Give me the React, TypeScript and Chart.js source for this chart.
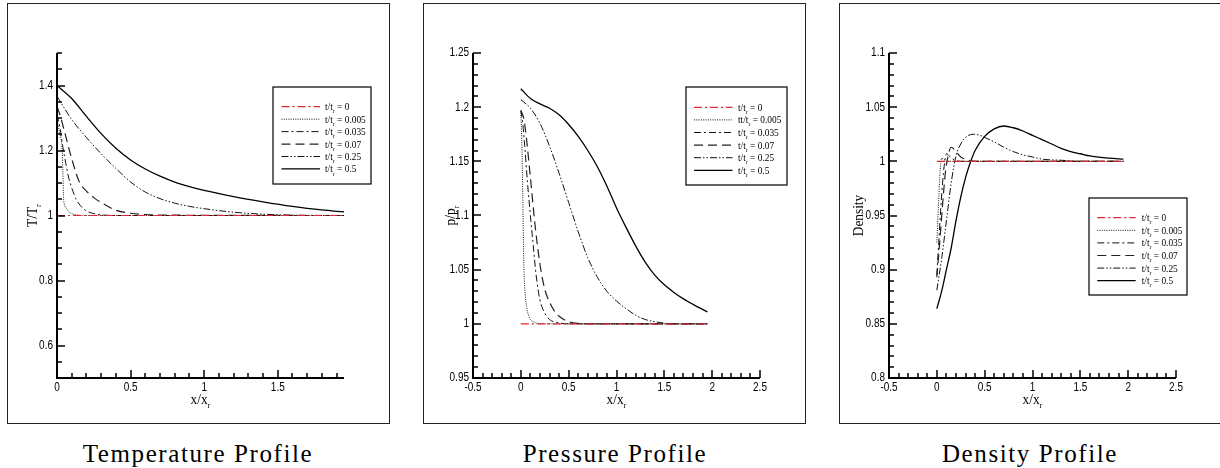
import React, { useEffect, useRef } from 'react';
import { Chart, registerables } from 'chart.js';
Chart.register(...registerables);

// ---------- Temperature profile ----------
const T_x0 = [0, 1.95];
const T_y0 = [1, 1];
const T_x1 = [0, 0.02, 0.035, 0.04, 0.045, 0.06, 0.08, 0.1, 0.13, 0.2, 1.95];
const T_y1 = [1.29, 1.25, 1.2, 1.13, 1.05, 1.025, 1.012, 1.006, 1.002, 1.0, 1.0];
const T_x2 = [0, 0.02, 0.04, 0.06, 0.08, 0.1, 0.13, 0.16, 0.2, 0.25, 0.3, 0.4, 1.95];
const T_y2 = [1.31, 1.27, 1.21, 1.16, 1.115, 1.085, 1.05, 1.03, 1.014, 1.006, 1.002, 1.0, 1.0];
const T_x3 = [0, 0.02, 0.05, 0.1, 0.15, 0.2, 0.25, 0.3, 0.4, 0.5, 0.6, 0.8, 1.95];
const T_y3 = [1.335, 1.31, 1.26, 1.175, 1.105, 1.075, 1.055, 1.04, 1.016, 1.007, 1.003, 1.001, 1.0];
const T_x4 = [0, 0.05, 0.1, 0.2, 0.3, 0.4, 0.5, 0.6, 0.7, 0.8, 0.9, 1.0, 1.2, 1.4, 1.6, 1.95];
const T_y4 = [1.367, 1.33, 1.295, 1.24, 1.19, 1.145, 1.103, 1.072, 1.052, 1.038, 1.028, 1.021, 1.01, 1.004, 1.001, 1.0];
const T_x5 = [0, 0.1, 0.2, 0.3, 0.4, 0.5, 0.6, 0.7, 0.8, 0.9, 1.0, 1.2, 1.4, 1.6, 1.8, 1.95];
const T_y5 = [1.4, 1.36, 1.305, 1.252, 1.207, 1.171, 1.143, 1.121, 1.103, 1.089, 1.077, 1.058, 1.042, 1.028, 1.017, 1.011];

// ---------- Pressure profile ----------
const P_x0 = [0, 1.95];
const P_y0 = [1, 1];
const P_x1 = [0, 0.01, 0.02, 0.03, 0.04, 0.06, 0.08, 0.1, 0.13, 0.2, 1.95];
const P_y1 = [1.195, 1.17, 1.12, 1.06, 1.035, 1.016, 1.008, 1.004, 1.002, 1.0, 1.0];
const P_x2 = [0, 0.02, 0.04, 0.07, 0.1, 0.13, 0.16, 0.2, 0.25, 0.3, 0.4, 0.5, 1.95];
const P_y2 = [1.197, 1.185, 1.165, 1.13, 1.1, 1.072, 1.045, 1.022, 1.01, 1.004, 1.001, 1.0, 1.0];
const P_x3 = [0, 0.03, 0.06, 0.1, 0.15, 0.2, 0.25, 0.3, 0.35, 0.4, 0.5, 0.6, 0.8, 1.95];
const P_y3 = [1.197, 1.19, 1.17, 1.135, 1.09, 1.055, 1.032, 1.02, 1.012, 1.007, 1.002, 1.0005, 1.0, 1.0];
const P_x4 = [0, 0.1, 0.2, 0.3, 0.4, 0.5, 0.6, 0.7, 0.8, 0.9, 1.0, 1.1, 1.2, 1.3, 1.4, 1.6, 1.95];
const P_y4 = [1.207, 1.199, 1.185, 1.164, 1.139, 1.112, 1.085, 1.061, 1.043, 1.03, 1.021, 1.014, 1.008, 1.004, 1.002, 1.0, 1.0];
const P_x5 = [0, 0.1, 0.2, 0.3, 0.4, 0.5, 0.6, 0.7, 0.8, 0.9, 1.0, 1.1, 1.2, 1.3, 1.4, 1.5, 1.6, 1.7, 1.8, 1.95];
const P_y5 = [1.217, 1.208, 1.203, 1.199, 1.193, 1.184, 1.173, 1.16, 1.145, 1.127, 1.107, 1.089, 1.072, 1.057, 1.045, 1.036, 1.029, 1.023, 1.018, 1.011];

// ---------- Density profile ----------
const D_x0 = [0, 1.95];
const D_y0 = [1, 1];
const D_x1 = [0, 0.01, 0.02, 0.03, 0.04, 0.05, 0.07, 0.1, 1.95];
const D_y1 = [0.925, 0.945, 0.965, 0.985, 0.998, 1.003, 1.002, 1.0, 1.0];
const D_x2 = [0, 0.02, 0.04, 0.06, 0.08, 0.1, 0.13, 0.17, 0.25, 1.95];
const D_y2 = [0.895, 0.925, 0.955, 0.98, 0.998, 1.007, 1.005, 1.002, 1.0, 1.0];
const D_x3 = [0, 0.03, 0.06, 0.09, 0.12, 0.15, 0.2, 0.25, 0.3, 0.4, 1.95];
const D_y3 = [0.893, 0.925, 0.96, 0.99, 1.006, 1.013, 1.009, 1.004, 1.002, 1.0, 1.0];
const D_x4 = [0, 0.05, 0.1, 0.15, 0.2, 0.25, 0.3, 0.38, 0.45, 0.5, 0.6, 0.7, 0.8, 0.9, 1.0, 1.1, 1.3, 1.5, 1.95];
const D_y4 = [0.881, 0.91, 0.945, 0.98, 1.005, 1.016, 1.022, 1.025, 1.024, 1.022, 1.018, 1.013, 1.009, 1.006, 1.004, 1.002, 1.001, 1.0, 1.0];
const D_x5 = [0, 0.05, 0.1, 0.15, 0.2, 0.25, 0.3, 0.35, 0.4, 0.5, 0.6, 0.7, 0.8, 0.9, 1.0, 1.1, 1.2, 1.3, 1.4, 1.5, 1.6, 1.8, 1.95];
const D_y5 = [0.864, 0.88, 0.9, 0.92, 0.945, 0.967, 0.985, 0.999, 1.01, 1.023, 1.03, 1.0326, 1.031, 1.028, 1.024, 1.02, 1.016, 1.012, 1.009, 1.007, 1.005, 1.003, 1.002];

// ---------- labels & ticks ----------
const seriesValues = ['0', '0.005', '0.035', '0.07', '0.25', '0.5'];
const legendPrefixT = ['t/t', 't/t', 't/t', 't/t', 't/t', 't/t'];
const legendPrefixP = ['t/t', 'tt/t', 't/t', 't/t', 't/t', 't/t'];
const T_xTicks = [0, 0.5, 1, 1.5];
const T_yTicks = [0.6, 0.8, 1, 1.2, 1.4];
const T_xMinor = [0.1, 0.2, 0.3, 0.4, 0.5, 0.6, 0.7, 0.8, 0.9, 1, 1.1, 1.2, 1.3, 1.4, 1.5, 1.6, 1.7, 1.8, 1.9];
const T_yMinor = [0.55, 0.6, 0.65, 0.7, 0.75, 0.8, 0.85, 0.9, 0.95, 1, 1.05, 1.1, 1.15, 1.2, 1.25, 1.3, 1.35, 1.4, 1.45, 1.5];
const PD_xTicks = [-0.5, 0, 0.5, 1, 1.5, 2, 2.5];
const PD_xMinor = [-0.4, -0.3, -0.2, -0.1, 0, 0.1, 0.2, 0.3, 0.4, 0.5, 0.6, 0.7, 0.8, 0.9, 1, 1.1, 1.2, 1.3, 1.4, 1.5, 1.6, 1.7, 1.8, 1.9, 2, 2.1, 2.2, 2.3, 2.4, 2.5];
const P_yTicks = [0.95, 1, 1.05, 1.1, 1.15, 1.2, 1.25];
const P_yMinor = [0.96, 0.97, 0.98, 0.99, 1, 1.01, 1.02, 1.03, 1.04, 1.05, 1.06, 1.07, 1.08, 1.09, 1.1, 1.11, 1.12, 1.13, 1.14, 1.15, 1.16, 1.17, 1.18, 1.19, 1.2, 1.21, 1.22, 1.23, 1.24, 1.25];
const D_yTicks = [0.8, 0.85, 0.9, 0.95, 1, 1.05, 1.1];
const D_yMinor = [0.81, 0.82, 0.83, 0.84, 0.85, 0.86, 0.87, 0.88, 0.89, 0.9, 0.91, 0.92, 0.93, 0.94, 0.95, 0.96, 0.97, 0.98, 0.99, 1, 1.01, 1.02, 1.03, 1.04, 1.05, 1.06, 1.07, 1.08, 1.09, 1.1];
const captions = ['Temperature Profile', 'Pressure Profile', 'Density Profile'];

const lineStyles = [
  { color: '#e0282c', dash: [8, 3, 2, 3], width: 1.2 },
  { color: '#111111', dash: [1, 1.3], width: 1 },
  { color: '#111111', dash: [7, 3, 2, 3], width: 1 },
  { color: '#222222', dash: [9, 5], width: 1.2 },
  { color: '#111111', dash: [7, 2, 1.5, 2, 1.5, 2], width: 1 },
  { color: '#000000', dash: [], width: 1.3 },
];

const SERIF = "'Liberation Serif', 'Times New Roman', serif";
const SANS = "'Liberation Sans', Arial, sans-serif";

function pts(xs: number[], ys: number[]) {
  return xs.map((x, i) => ({ x, y: ys[i] }));
}

function drawSub(ctx: CanvasRenderingContext2D, x: number, y: number, main: string, sub: string, post: string, size: number, align: 'left' | 'center', sx0 = 1) {
  const subSize = Math.round(size * 0.65);
  ctx.save();
  ctx.translate(x, y);
  ctx.scale(sx0, 1);
  ctx.font = `${size}px ${SERIF}`;
  const w1 = ctx.measureText(main).width;
  const w3 = ctx.measureText(post).width;
  ctx.font = `${subSize}px ${SERIF}`;
  const w2 = sub ? ctx.measureText(sub).width : 0;
  const total = w1 + w2 + w3;
  let sx = align === 'center' ? -total / 2 : 0;
  ctx.textAlign = 'left';
  ctx.textBaseline = 'alphabetic';
  ctx.font = `${size}px ${SERIF}`;
  ctx.fillText(main, sx, 0);
  sx += w1;
  if (sub) {
    ctx.font = `${subSize}px ${SERIF}`;
    ctx.fillText(sub, sx, size * 0.28);
    sx += w2;
  }
  ctx.font = `${size}px ${SERIF}`;
  ctx.fillText(post, sx, 0);
  ctx.restore();
}

type PanelCfg = {
  left: number;
  padLeft: number;
  padRight: number;
  xMin: number; xMax: number; yMin: number; yMax: number;
  xTicks: number[]; yTicks: number[];
  xMinor: number[]; yMinor: number[];
  yTitle: [string, string]; yTitleX: number;
  series: { x: number[]; y: number[] }[];
  legend: any;
};

function makeDecor(cfg: PanelCfg) {
  return {
    id: 'decor' + cfg.left,
    afterDraw(chart: any) {
      const ctx: CanvasRenderingContext2D = chart.ctx;
      const a = chart.chartArea;
      const xs = chart.scales.x;
      const ys = chart.scales.y;
      ctx.save();
      ctx.setLineDash([]);
      ctx.fillStyle = '#000';
      ctx.strokeStyle = '#000';
      const L0 = Math.round(a.left);
      const B0 = Math.round(a.bottom);
      const T0 = Math.round(a.top);
      const R0 = Math.round(a.right);
      const majorX = (v: number) => cfg.xTicks.some((t) => Math.abs(t - v) < 1e-6);
      const majorY = (v: number) => cfg.yTicks.some((t) => Math.abs(t - v) < 1e-6);
      // tick marks pointing into the plot
      for (const v of cfg.xMinor) {
        const px = Math.round(xs.getPixelForValue(v));
        const len = majorX(v) ? 8 : 5;
        ctx.fillRect(px - 0.75, B0 - len, 1.5, len);
      }
      for (const v of cfg.yMinor) {
        const py = Math.round(ys.getPixelForValue(v));
        const len = majorY(v) ? 8 : 5;
        ctx.fillRect(L0, py - 0.75, len, 1.5);
      }
      // axis lines
      ctx.fillRect(L0 - 1, T0, 2, B0 - T0 + 1);
      ctx.fillRect(L0 - 1, B0 - 1, R0 - L0 + 1, 2);

      // tick labels (condensed sans, like the original)
      ctx.font = `12.5px ${SANS}`;
      ctx.textBaseline = 'middle';
      xs.ticks.forEach((t: any) => {
        const px = xs.getPixelForValue(t.value);
        ctx.save();
        ctx.translate(px, a.bottom + 10);
        ctx.scale(0.8, 1);
        ctx.textAlign = 'center';
        ctx.fillText(String(t.value), 0, 0);
        ctx.restore();
      });
      ys.ticks.forEach((t: any) => {
        const py = ys.getPixelForValue(t.value);
        ctx.save();
        ctx.translate(a.left - 4, py);
        ctx.scale(0.8, 1);
        ctx.textAlign = 'right';
        ctx.fillText(String(t.value), 0, 0);
        ctx.restore();
      });

      // axis titles
      drawSub(ctx, (a.left + a.right) / 2, 404, 'x/x', 'r', '', 14, 'center', 0.95);
      ctx.save();
      ctx.translate(cfg.yTitleX, (a.top + a.bottom) / 2);
      ctx.rotate(-Math.PI / 2);
      drawSub(ctx, 0, 5, cfg.yTitle[0], cfg.yTitle[1], '', 14, 'center', 0.95);
      ctx.restore();

      // legend
      const L = cfg.legend;
      ctx.lineWidth = 1.2;
      ctx.strokeStyle = '#000';
      ctx.setLineDash([]);
      ctx.strokeRect(L.x0, L.y0, L.x1 - L.x0, L.y1 - L.y0);
      chart.data.datasets.forEach((ds: any, i: number) => {
        const ry = L.row0 + i * L.dy;
        ctx.save();
        ctx.strokeStyle = ds.borderColor;
        ctx.lineWidth = ds.borderWidth;
        ctx.setLineDash(ds.borderDash || []);
        ctx.beginPath();
        ctx.moveTo(L.s0, ry);
        ctx.lineTo(L.s1, ry);
        ctx.stroke();
        ctx.restore();
        ctx.fillStyle = '#000';
        drawSub(ctx, L.tx, ry + 3.5, L.prefix[i], 'r', ' = ' + seriesValues[i], 11, 'left', 0.85);
      });
      ctx.restore();
    },
  };
}

const panels: PanelCfg[] = [
  {
    left: 0, padLeft: 57, padRight: 61,
    xMin: 0, xMax: 1.95, yMin: 0.5, yMax: 1.5,
    xTicks: T_xTicks, yTicks: T_yTicks, xMinor: T_xMinor, yMinor: T_yMinor,
    yTitle: ['T/T', 'r'], yTitleX: 32,
    series: [
      { x: T_x0, y: T_y0 }, { x: T_x1, y: T_y1 }, { x: T_x2, y: T_y2 },
      { x: T_x3, y: T_y3 }, { x: T_x4, y: T_y4 }, { x: T_x5, y: T_y5 },
    ],
    legend: { x0: 273, y0: 87, x1: 371, y1: 184, row0: 106.7, dy: 12.45, s0: 281.5, s1: 320, tx: 325, prefix: legendPrefixT },
  },
  {
    left: 410, padLeft: 63, padRight: 55,
    xMin: -0.5, xMax: 2.5, yMin: 0.95, yMax: 1.25,
    xTicks: PD_xTicks, yTicks: P_yTicks, xMinor: PD_xMinor, yMinor: P_yMinor,
    yTitle: ['p/p', 'r'], yTitleX: 40,
    series: [
      { x: P_x0, y: P_y0 }, { x: P_x1, y: P_y1 }, { x: P_x2, y: P_y2 },
      { x: P_x3, y: P_y3 }, { x: P_x4, y: P_y4 }, { x: P_x5, y: P_y5 },
    ],
    legend: { x0: 276, y0: 87, x1: 377, y1: 185, row0: 107.3, dy: 12.6, s0: 284, s1: 322.5, tx: 328, prefix: legendPrefixP },
  },
  {
    left: 815, padLeft: 74, padRight: 44,
    xMin: -0.5, xMax: 2.5, yMin: 0.8, yMax: 1.1,
    xTicks: PD_xTicks, yTicks: D_yTicks, xMinor: PD_xMinor, yMinor: D_yMinor,
    yTitle: ['Density', ''], yTitleX: 43,
    series: [
      { x: D_x0, y: D_y0 }, { x: D_x1, y: D_y1 }, { x: D_x2, y: D_y2 },
      { x: D_x3, y: D_y3 }, { x: D_x4, y: D_y4 }, { x: D_x5, y: D_y5 },
    ],
    legend: { x0: 274, y0: 198, x1: 372, y1: 295, row0: 217.7, dy: 12.6, s0: 282.3, s1: 320.7, tx: 326.7, prefix: legendPrefixT },
  },
];

const CW = 405;
const CH = 430;

function Panel({ cfg }: { cfg: PanelCfg }) {
  const ref = useRef<HTMLCanvasElement>(null);
  useEffect(() => {
    if (!ref.current) return;
    const chart = new Chart(ref.current, {
      type: 'line',
      data: {
        datasets: cfg.series.map((s, i) => ({
          label: seriesValues[i],
          data: pts(s.x, s.y),
          borderColor: lineStyles[i].color,
          borderDash: lineStyles[i].dash,
          borderWidth: lineStyles[i].width,
          pointRadius: 0,
          fill: false,
          cubicInterpolationMode: 'monotone',
        })),
      },
      options: {
        responsive: false,
        animation: false,
        devicePixelRatio: 1,
        layout: { padding: { left: 0, top: 53, right: cfg.padRight, bottom: CH - 378 - 30 } },
        scales: {
          x: {
            type: 'linear',
            min: cfg.xMin,
            max: cfg.xMax,
            afterBuildTicks: (s: any) => { s.ticks = cfg.xTicks.map((v) => ({ value: v })); },
            afterFit: (s: any) => { s.height = 30; },
            grid: { display: false, drawTicks: false },
            border: { display: false },
            ticks: { display: false, autoSkip: false },
          },
          y: {
            type: 'linear',
            min: cfg.yMin,
            max: cfg.yMax,
            afterBuildTicks: (s: any) => { s.ticks = cfg.yTicks.map((v) => ({ value: v })); },
            afterFit: (s: any) => { s.width = cfg.padLeft; },
            grid: { display: false, drawTicks: false },
            border: { display: false },
            ticks: { display: false, autoSkip: false },
          },
        },
        plugins: {
          legend: { display: false },
          tooltip: { enabled: false },
        },
      },
      plugins: [makeDecor(cfg)],
    } as any);
    return () => chart.destroy();
  }, [cfg]);
  return (
    <canvas
      ref={ref}
      width={CW}
      height={CH}
      style={{ position: 'absolute', left: cfg.left, top: 0, width: CW, height: CH }}
    />
  );
}

const frames = [
  { left: 7, width: 383 },
  { left: 423, width: 383 },
  { left: 839, width: 420 },
];
const captionCenters = [198, 615, 1030];

export default function App() {
  return (
    <div style={{ position: 'absolute', left: 0, top: 0, width: 1220, height: 468, overflow: 'hidden', background: '#fff' }}>
      {frames.map((f, i) => (
        <div key={'f' + i} style={{ position: 'absolute', left: f.left, top: 3, width: f.width, height: 421, border: '1.5px solid #222', boxSizing: 'border-box' }} />
      ))}
      {panels.map((p, i) => (
        <Panel key={'p' + i} cfg={p} />
      ))}
      {captions.map((c, i) => (
        <div key={'c' + i} style={{ position: 'absolute', left: captionCenters[i] - 200, width: 400, top: 441, textAlign: 'center', fontFamily: SERIF, fontSize: 25, lineHeight: '25px', letterSpacing: '1.6px', color: '#000', whiteSpace: 'nowrap' }}>
          {c}
        </div>
      ))}
    </div>
  );
}
